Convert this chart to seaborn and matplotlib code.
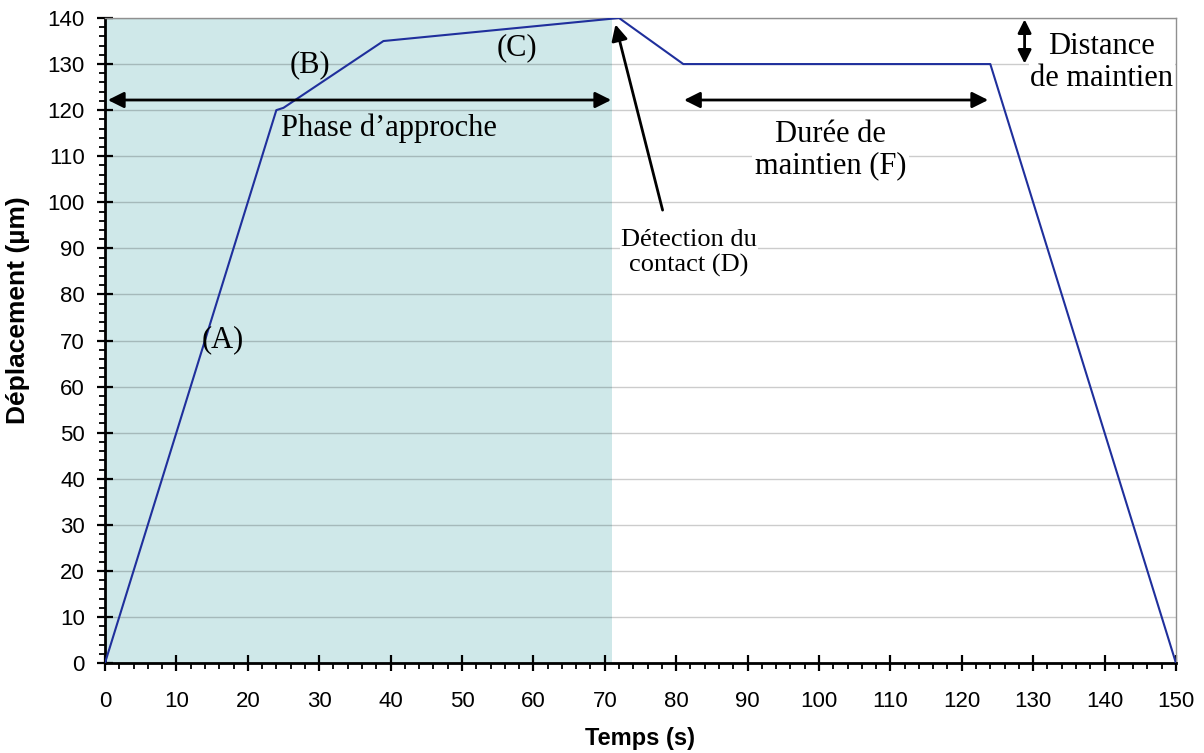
import pandas as pd
import seaborn as sns
import matplotlib.pyplot as plt
from matplotlib.ticker import MultipleLocator

# data
temps = [0, 24, 25, 39, 72, 81, 124, 150]
deplacement = [0, 120, 120.5, 135, 140, 130, 130, 0]

fin_approche = 71

df = pd.DataFrame({'Temps': temps, 'Deplacement': deplacement})

sns.set_style('ticks')
plt.rcParams['font.family'] = ['Liberation Sans', 'DejaVu Sans']
plt.rcParams['text.color'] = 'black'
plt.rcParams['axes.labelcolor'] = 'black'
plt.rcParams['xtick.color'] = 'black'
plt.rcParams['ytick.color'] = 'black'

fig = plt.figure(figsize=(12.04, 7.53), dpi=100)
ax = fig.add_axes([0.0872, 0.1195, 0.8895, 0.8566])

# shaded approach phase
ax.axvspan(0, fin_approche, color='#cfe8e9', zorder=0, lw=0)

sns.lineplot(data=df, x='Temps', y='Deplacement', ax=ax, color='#1f2f9c',
             linewidth=1.5, zorder=3)

ax.set_xlim(0, 150)
ax.set_ylim(0, 140)
ax.xaxis.set_major_locator(MultipleLocator(10))
ax.xaxis.set_minor_locator(MultipleLocator(2))
ax.yaxis.set_major_locator(MultipleLocator(10))
ax.yaxis.set_minor_locator(MultipleLocator(2))
ax.tick_params(which='major', direction='inout', length=11, width=1.6,
               labelsize=16, color='black', labelcolor='black')
ax.tick_params(which='minor', direction='out', length=4, width=1.3, color='black')
ax.tick_params(axis='y', which='major', pad=9)
ax.tick_params(axis='x', which='major', pad=15)
ax.grid(True, which='major', axis='y', color='black', alpha=0.2, linewidth=1)
ax.set_axisbelow(True)

for s in ['left', 'bottom']:
    ax.spines[s].set_color('black')
    ax.spines[s].set_linewidth(2)
for s in ['right', 'top']:
    ax.spines[s].set_color('#909090')
    ax.spines[s].set_linewidth(1)

ax.set_xlabel('Temps (s)', fontsize=17, fontweight='bold', color='black')
ax.set_ylabel('Déplacement (µm)', fontsize=19, fontweight='bold', color='black')
ax.xaxis.set_label_coords(0.4995, -0.099)
ax.yaxis.set_label_coords(-0.07, 0.547)

serif = ['Liberation Serif', 'DejaVu Serif']
arr = dict(arrowstyle='<|-|>', color='black', lw=2, mutation_scale=24,
           shrinkA=0, shrinkB=0)

# phase d'approche
ax.annotate('', xy=(0.4, 122.2), xytext=(70.9, 122.2), arrowprops=arr, zorder=5)
ax.text(39.8, 116.1, 'Phase d\u2019approche', family=serif, fontsize=22,
        ha='center', va='center', zorder=5)

ax.text(16.5, 70.1, '(A)', family=serif, fontsize=22, ha='center', va='center')
ax.text(28.7, 129.8, '(B)', family=serif, fontsize=22, ha='center', va='center')
ax.text(57.7, 133.5, '(C)', family=serif, fontsize=22, ha='center', va='center')

# contact detection
ax.annotate('', xy=(71.5, 138.6), xytext=(78.1, 98.3),
            arrowprops=dict(arrowstyle='-|>', color='black', lw=2,
                            mutation_scale=24, shrinkA=0, shrinkB=0), zorder=5)
ax.text(81.8, 89.0, 'Détection du\ncontact (D)', family=serif, fontsize=19,
        ha='center', va='center', linespacing=1.12,
        bbox=dict(facecolor='white', edgecolor='none', pad=1), zorder=5)

# holding time
ax.annotate('', xy=(81.1, 122.2), xytext=(123.7, 122.2), arrowprops=arr, zorder=5)
ax.text(101.6, 111.4, 'Durée de\nmaintien (F)', family=serif, fontsize=22,
        ha='center', va='center', linespacing=1.1,
        bbox=dict(facecolor='white', edgecolor='none', pad=2), zorder=5)

# holding distance
ax.annotate('', xy=(128.8, 139.7), xytext=(128.8, 130.1),
            arrowprops=dict(arrowstyle='<|-|>', color='black', lw=2,
                            mutation_scale=20, shrinkA=0, shrinkB=0), zorder=5)
ax.text(139.6, 130.3, 'Distance\nde maintien', family=serif, fontsize=22,
        ha='center', va='center', linespacing=1.12,
        bbox=dict(facecolor='white', edgecolor='none', pad=1), zorder=4)

fig.savefig('out.png', dpi=100)
plt.close(fig)
